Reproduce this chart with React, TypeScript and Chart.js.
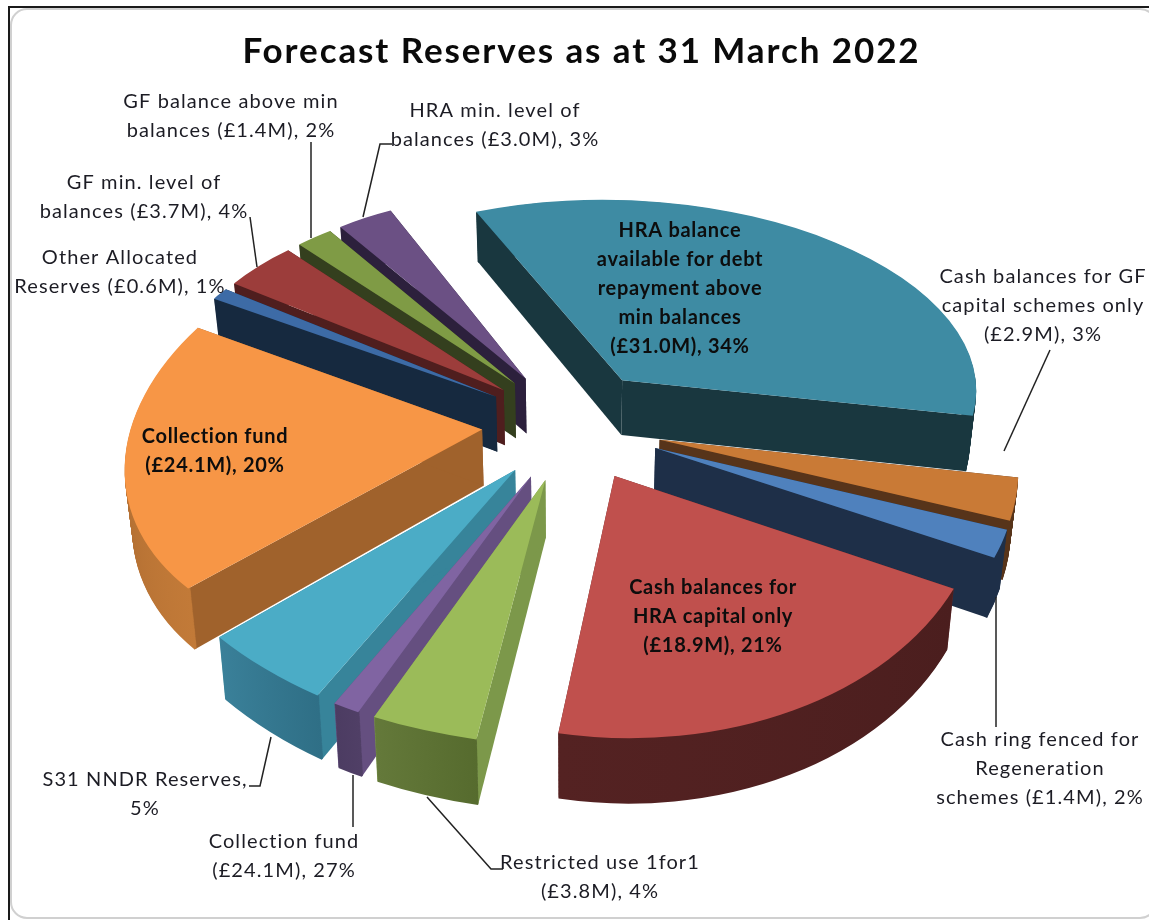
import { useEffect, useRef } from "react";
import { Chart, registerables } from "chart.js";

Chart.register(...registerables);

const titleText = "Forecast Reserves as at 31 March 2022";

const categories = [
  "HRA balance available for debt repayment above min balances",
  "Cash balances for GF capital schemes only",
  "Cash ring fenced for Regeneration schemes",
  "Cash balances for HRA capital only",
  "Restricted use 1for1",
  "Collection fund (small)",
  "S31 NNDR Reserves",
  "Collection fund",
  "Other Allocated Reserves",
  "GF min. level of balances",
  "GF balance above min balances",
  "HRA min. level of balances",
];

// Share of the total for each slice, in percent.
const shares = [34, 3, 2, 21, 4, 1, 5, 20, 1, 4, 2, 3];

const topColours = ["#3e8ba3", "#c97a36", "#4f81bd", "#c0504d", "#9bbb59", "#8064a2", "#4bacc6", "#f79646", "#3d6ba6", "#9c3d3b", "#7f9b45", "#6b5084"];
const cutColours = ["#19373f", "#57341a", "#1e2f48", "#5f2727", "#7c984a", "#654f80", "#37849a", "#a0622c", "#16293f", "#4f1e1e", "#343f1e", "#2c203c"];
const rimStartColours = ["#19373f", "#57341a", "#1e2f48", "#4b1e1e", "#566b2e", "#503f66", "#2f6f86", "#c27a38", "#16293f", "#4f1e1e", "#343f1e", "#2c203c"];
const rimEndColours = ["#19373f", "#57341a", "#1e2f48", "#542222", "#64793a", "#4c3c62", "#3a8099", "#a0622c", "#16293f", "#4f1e1e", "#343f1e", "#2c203c"];

const labelLines = [
  ["HRA balance", "available for debt", "repayment above", "min balances", "(£31.0M), 34%"],
  ["Cash balances for GF", "capital schemes only", "(£2.9M), 3%"],
  ["Cash ring fenced for", "Regeneration", "schemes (£1.4M), 2%"],
  ["Cash balances for", "HRA capital only", "(£18.9M), 21%"],
  ["Restricted use 1for1", "(£3.8M), 4%"],
  ["Collection fund", "(£24.1M), 27%"],
  ["S31 NNDR Reserves,", "5%"],
  ["Collection fund", "(£24.1M), 20%"],
  ["Other Allocated", "Reserves (£0.6M), 1%"],
  ["GF min. level of", "balances (£3.7M), 4%"],
  ["GF balance above min", "balances (£1.4M), 2%"],
  ["HRA min. level of", "balances (£3.0M), 3%"],
];

// Centre x and first-line y of each label block.
const labelPlacement = [
  [680, 231], [1043, 277], [1040, 740], [713, 588], [600, 863], [284, 842],
  [145, 780], [215, 437], [120, 258], [144, 183], [231, 102], [495, 111],
];
const labelIsInside = [true, false, false, true, false, false, false, true, false, false, false, false];

const leaderLines = [
  [[1050, 350], [1004, 451]],
  [[996, 597], [996, 727]],
  [[427, 797], [491, 869], [503, 869]],
  [[353, 775], [353, 827]],
  [[271, 737], [260, 786], [249, 786]],
  [[257, 267], [250, 217]],
  [[311, 238], [311, 142]],
  [[363, 217], [380, 144], [392, 144]],
];

// Simple pinhole view of the tilted pie: slices are fitted to it one at a time.
const view = { cx: 572, cy: 425, tilt: 0.62, distance: 3000, thickness: 56, taper: 0.0003, twist: 0.07 };
const explosion = 90;
const pieRadius = 352;
const pieRotation = -27;

function project(x0: number, y0: number, z: number): [number, number] {
  // The sides of the pie turn slightly further round than its back, and more again at the front.
  const theta = Math.atan2(y0, x0);
  const turn = theta + view.twist * Math.cos(theta) ** 2 * (1 + 0.6 * Math.sin(theta));
  const len = Math.hypot(x0, y0);
  const x = len * Math.cos(turn);
  const y = len * Math.sin(turn);
  const g = 1 / (1 - y / view.distance);
  const t = 1 - z * view.taper;
  return [view.cx + x * g * t, view.cy + view.tilt * y * g + z * g];
}

function sliceFrame(el: any) {
  const { x, y, startAngle: a0, endAngle: a1, outerRadius: r } = el.getProps(["x", "y", "startAngle", "endAngle", "outerRadius"]);
  const mid = (a0 + a1) / 2;
  return { x, y, a0, a1, r, ax: explosion * Math.cos(mid), ay: explosion * Math.sin(mid) };
}

// Affine map taking the apex and both corners of a slice to their projected spots.
function applySliceTransform(ctx: CanvasRenderingContext2D, f: ReturnType<typeof sliceFrame>, z: number) {
  const u = [f.r * Math.cos(f.a0), f.r * Math.sin(f.a0)];
  const v = [f.r * Math.cos(f.a1), f.r * Math.sin(f.a1)];
  const d0 = project(f.ax, f.ay, z);
  const d1 = project(f.ax + u[0], f.ay + u[1], z);
  const d2 = project(f.ax + v[0], f.ay + v[1], z);
  const du = [d1[0] - d0[0], d1[1] - d0[1]];
  const dv = [d2[0] - d0[0], d2[1] - d0[1]];
  const det = u[0] * v[1] - v[0] * u[1];
  const a = (du[0] * v[1] - dv[0] * u[1]) / det;
  const c = (dv[0] * u[0] - du[0] * v[0]) / det;
  const b = (du[1] * v[1] - dv[1] * u[1]) / det;
  const d = (dv[1] * u[0] - du[1] * v[0]) / det;
  ctx.setTransform(a, b, c, d, d0[0] - a * f.x - c * f.y, d0[1] - b * f.x - d * f.y);
}

// One flat cut face, from the apex out to the rim at the given angle.
function fillCutFace(ctx: CanvasRenderingContext2D, f: ReturnType<typeof sliceFrame>, angle: number, colour: string) {
  const ex = f.ax + f.r * Math.cos(angle);
  const ey = f.ay + f.r * Math.sin(angle);
  const corners = [
    project(f.ax, f.ay, 0), project(ex, ey, 0),
    project(ex, ey, view.thickness), project(f.ax, f.ay, view.thickness),
  ];
  ctx.setTransform(1, 0, 0, 1, 0, 0);
  ctx.beginPath();
  corners.forEach(([x, y], k) => (k ? ctx.lineTo(x, y) : ctx.moveTo(x, y)));
  ctx.closePath();
  ctx.fillStyle = colour;
  ctx.fill();
}

const tiltedPie = {
  id: "tiltedPie",
  beforeDatasetDraw: () => false,
  afterDatasetsDraw(chart: any) {
    const ctx: CanvasRenderingContext2D = chart.ctx;
    const arcs: any[] = chart.getDatasetMeta(0).data;
    const order = arcs
      .map((el, i) => ({ el, i, f: sliceFrame(el) }))
      .sort((p, q) => Math.sin((p.f.a0 + p.f.a1) / 2) - Math.sin((q.f.a0 + q.f.a1) / 2));
    for (const { el, i, f } of order) {
      ctx.save();
      fillCutFace(ctx, f, f.a0, cutColours[i]);
      fillCutFace(ctx, f, f.a1, cutColours[i]);
      // Outer wall: the rim swept down through the slice's thickness.
      const rim = ctx.createLinearGradient(
        f.x + f.r * Math.cos(f.a0), f.y + f.r * Math.sin(f.a0),
        f.x + f.r * Math.cos(f.a1), f.y + f.r * Math.sin(f.a1),
      );
      rim.addColorStop(0, rimStartColours[i]);
      rim.addColorStop(1, rimEndColours[i]);
      for (let z = view.thickness; z >= 1; z--) {
        applySliceTransform(ctx, f, z);
        ctx.beginPath();
        ctx.arc(f.x, f.y, f.r - 1.5, f.a0, f.a1);
        ctx.lineWidth = 3;
        ctx.strokeStyle = rim;
        ctx.stroke();
      }
      applySliceTransform(ctx, f, 0);
      el.draw(ctx);
      ctx.restore();
    }
  },
};

const frameAndLabels = {
  id: "frameAndLabels",
  beforeDraw(chart: any) {
    const ctx: any = chart.ctx;
    ctx.save();
    ctx.fillStyle = "#ffffff";
    ctx.fillRect(0, 0, chart.width, chart.height);
    ctx.strokeStyle = "#d0d0d0";
    ctx.lineWidth = 2;
    ctx.beginPath();
    ctx.roundRect(11, 9, 1145, 909, 16);
    ctx.stroke();
    ctx.strokeStyle = "#1a1a1a";
    ctx.beginPath();
    ctx.moveTo(9, 920);
    ctx.lineTo(9, 7);
    ctx.lineTo(1149, 7);
    ctx.stroke();
    ctx.restore();
    // Spacing for the title, which is painted next.
    ctx.letterSpacing = "1.9px";
  },
  beforeDatasetsDraw(chart: any) {
    chart.ctx.letterSpacing = "0px";
  },
  afterDraw(chart: any) {
    const ctx: any = chart.ctx;
    ctx.save();
    ctx.strokeStyle = "#222222";
    ctx.lineWidth = 1.5;
    for (const line of leaderLines) {
      ctx.beginPath();
      line.forEach(([x, y], i) => (i ? ctx.lineTo(x, y) : ctx.moveTo(x, y)));
      ctx.stroke();
    }
    ctx.textAlign = "center";
    ctx.textBaseline = "middle";
    labelLines.forEach((lines, i) => {
      const [x, y] = labelPlacement[i];
      ctx.font = `${labelIsInside[i] ? "bold " : ""}20px Lato`;
      ctx.letterSpacing = labelIsInside[i] ? "0.7px" : "1.1px";
      ctx.fillStyle = labelIsInside[i] ? "#0d0d0d" : "#1c1c24";
      lines.forEach((text, k) => ctx.fillText(text, x, y + k * 29));
    });
    ctx.restore();
  },
};

export default function App() {
  const canvasRef = useRef<HTMLCanvasElement>(null);

  useEffect(() => {
    const chart = new Chart(canvasRef.current as HTMLCanvasElement, {
      type: "pie",
      data: {
        labels: categories,
        datasets: [{
          data: shares,
          backgroundColor: topColours,
          borderWidth: 0,
        }],
      },
      options: {
        animation: false,
        responsive: false,
        rotation: pieRotation,
        radius: pieRadius,
        layout: { padding: { left: 14 } },
        plugins: {
          legend: { display: false },
          tooltip: { enabled: false },
          title: {
            display: true,
            text: titleText,
            color: "#0a0a0a",
            font: { family: "Lato", size: 35, weight: "bold" },
            padding: { top: 31, bottom: 0 },
          },
        },
      } as any,
      plugins: [frameAndLabels, tiltedPie],
    });
    return () => chart.destroy();
  }, []);

  return (
    <canvas
      ref={canvasRef}
      width={1149}
      height={920}
      style={{ position: "absolute", left: 0, top: 0, display: "block" }}
    />
  );
}
